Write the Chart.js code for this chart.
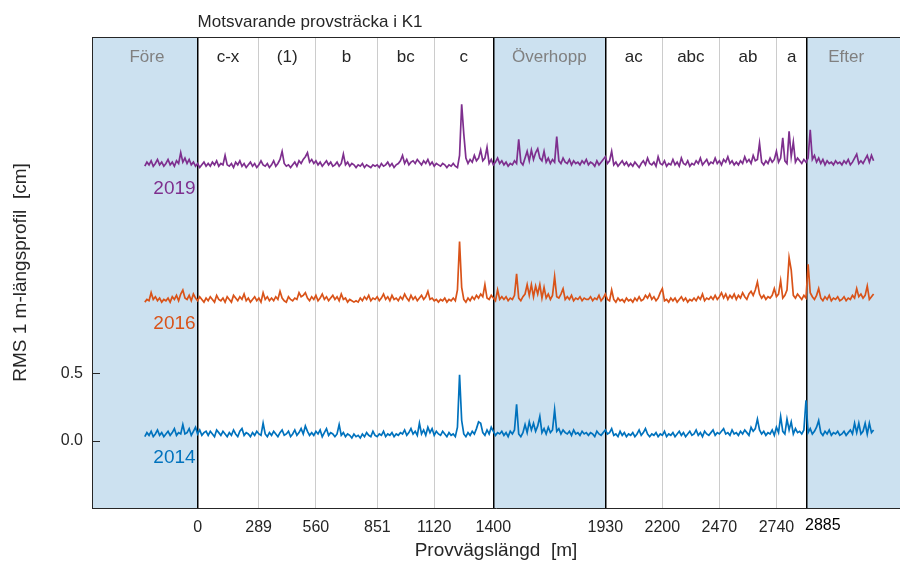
<!DOCTYPE html>
<html>
<head>
<meta charset="utf-8">
<script src="https://cdn.jsdelivr.net/npm/chart.js@4.4.0/dist/chart.umd.min.js"></script>
<style>
  body { margin: 0; background: #fff; }
  #wrap { width: 900px; height: 563px; }
</style>
</head>
<body>
<div id="wrap"><canvas id="rmsChart" width="900" height="563"></canvas></div>
<script>
// measurement grid along the road: one value every 10 m from -250 m
const startM = -250
const stepM = 10

// RMS values [cm], one row = 100 m
const rms2014 = [
  0.03, 0.06, 0.04, 0.07, 0.03, 0.05, 0.08, 0.04, 0.06, 0.03,
  0.05, 0.07, 0.04, 0.06, 0.09, 0.04, 0.06, 0.05, 0.12, 0.05,
  0.06, 0.09, 0.04, 0.07, 0.10, 0.05, 0.08, 0.04, 0.06, 0.07,
  0.04, 0.07, 0.05, 0.03, 0.08, 0.06, 0.04, 0.07, 0.05, 0.03,
  0.06, 0.04, 0.08, 0.05, 0.03, 0.07, 0.09, 0.04, 0.06, 0.05,
  0.03, 0.06, 0.04, 0.07, 0.05, 0.04, 0.13, 0.05, 0.03, 0.06,
  0.04, 0.07, 0.05, 0.03, 0.06, 0.08, 0.04, 0.05, 0.07, 0.03,
  0.05, 0.08, 0.04, 0.06, 0.09, 0.05, 0.11, 0.07, 0.04, 0.06,
  0.04, 0.07, 0.05, 0.08, 0.03, 0.06, 0.09, 0.04, 0.06, 0.05,
  0.03, 0.05, 0.12, 0.04, 0.06, 0.03, 0.05, 0.04, 0.02, 0.05,
  0.03, 0.04, 0.02, 0.05, 0.03, 0.06, 0.04, 0.03, 0.07, 0.04,
  0.03, 0.05, 0.04, 0.07, 0.03, 0.05, 0.04, 0.06, 0.03, 0.05,
  0.04, 0.06, 0.05, 0.08, 0.04, 0.06, 0.09, 0.05, 0.07, 0.04,
  0.13, 0.05, 0.08, 0.04, 0.10, 0.06, 0.09, 0.04, 0.07, 0.05,
  0.04, 0.07, 0.05, 0.03, 0.06, 0.04, 0.05, 0.03, 0.10, 0.49,
  0.15, 0.05, 0.03, 0.06, 0.04, 0.07, 0.05, 0.09, 0.14, 0.13,
  0.06, 0.04, 0.08, 0.05, 0.10, 0.07, 0.04, 0.06, 0.05, 0.07,
  0.04, 0.06, 0.03, 0.07, 0.05, 0.08, 0.27, 0.05, 0.03, 0.06,
  0.12, 0.06, 0.14, 0.08, 0.13, 0.07, 0.11, 0.18, 0.06, 0.09,
  0.05, 0.10, 0.06, 0.08, 0.23, 0.07, 0.09, 0.05, 0.08, 0.06,
  0.05, 0.07, 0.04, 0.08, 0.05, 0.06, 0.04, 0.07, 0.05, 0.06,
  0.04, 0.06, 0.05, 0.03, 0.07, 0.05, 0.04, 0.06, 0.08, 0.05,
  0.06, 0.09, 0.04, 0.05, 0.03, 0.07, 0.04, 0.06, 0.03, 0.05,
  0.04, 0.06, 0.03, 0.05, 0.08, 0.04, 0.06, 0.09, 0.05, 0.03,
  0.05, 0.04, 0.06, 0.03, 0.05, 0.04, 0.07, 0.03, 0.05, 0.04,
  0.06, 0.03, 0.05, 0.07, 0.04, 0.06, 0.03, 0.05, 0.07, 0.04,
  0.05, 0.08, 0.04, 0.06, 0.03, 0.07, 0.05, 0.04, 0.06, 0.08,
  0.04, 0.06, 0.05, 0.07, 0.09, 0.05, 0.06, 0.04, 0.08, 0.05,
  0.06, 0.04, 0.07, 0.05, 0.08, 0.06, 0.04, 0.10, 0.07, 0.09,
  0.16, 0.08, 0.05, 0.07, 0.04, 0.06, 0.05, 0.08, 0.04, 0.10,
  0.06, 0.18, 0.07, 0.05, 0.16, 0.08, 0.14, 0.05, 0.09, 0.06,
  0.07, 0.05, 0.08, 0.30, 0.06, 0.09, 0.05, 0.07, 0.10, 0.15,
  0.06, 0.04, 0.07, 0.05, 0.08, 0.04, 0.06, 0.05, 0.07, 0.04,
  0.05, 0.07, 0.04, 0.06, 0.08, 0.05, 0.13, 0.06, 0.13, 0.05,
  0.07, 0.13, 0.05, 0.13, 0.06, 0.08
]

const rms2016 = [
  0.03, 0.05, 0.04, 0.10, 0.05, 0.07, 0.04, 0.06, 0.03, 0.05,
  0.04, 0.06, 0.03, 0.07, 0.05, 0.08, 0.04, 0.09, 0.12, 0.06,
  0.05, 0.08, 0.04, 0.09, 0.06, 0.04, 0.07, 0.05, 0.03, 0.06,
  0.04, 0.07, 0.05, 0.03, 0.08, 0.05, 0.04, 0.06, 0.03, 0.07,
  0.05, 0.03, 0.08, 0.06, 0.04, 0.07, 0.05, 0.09, 0.04, 0.06,
  0.03, 0.05, 0.07, 0.04, 0.06, 0.03, 0.10, 0.05, 0.07, 0.04,
  0.06, 0.04, 0.07, 0.05, 0.11, 0.06, 0.04, 0.03, 0.07, 0.05,
  0.04, 0.06, 0.05, 0.10, 0.07, 0.08, 0.10, 0.06, 0.04, 0.07,
  0.05, 0.08, 0.04, 0.06, 0.09, 0.05, 0.07, 0.04, 0.06, 0.08,
  0.05, 0.07, 0.04, 0.09, 0.05, 0.06, 0.03, 0.05, 0.04, 0.03,
  0.04, 0.03, 0.06, 0.04, 0.07, 0.05, 0.08, 0.04, 0.06, 0.05,
  0.07, 0.04, 0.06, 0.09, 0.05, 0.07, 0.04, 0.08, 0.05, 0.06,
  0.04, 0.07, 0.05, 0.09, 0.06, 0.04, 0.08, 0.05, 0.07, 0.04,
  0.06, 0.08, 0.05, 0.07, 0.11, 0.05, 0.06, 0.04, 0.05, 0.03,
  0.05, 0.04, 0.06, 0.03, 0.05, 0.04, 0.06, 0.04, 0.12, 0.48,
  0.14, 0.05, 0.03, 0.06, 0.04, 0.07, 0.05, 0.08, 0.06, 0.09,
  0.07, 0.16, 0.06, 0.05, 0.08, 0.06, 0.04, 0.12, 0.05, 0.07,
  0.05, 0.07, 0.04, 0.06, 0.05, 0.08, 0.24, 0.06, 0.04, 0.07,
  0.09, 0.16, 0.08, 0.16, 0.07, 0.15, 0.09, 0.16, 0.06, 0.14,
  0.06, 0.09, 0.05, 0.08, 0.22, 0.07, 0.06, 0.09, 0.13, 0.05,
  0.07, 0.05, 0.08, 0.04, 0.06, 0.05, 0.07, 0.04, 0.06, 0.05,
  0.05, 0.07, 0.04, 0.06, 0.05, 0.08, 0.04, 0.06, 0.09, 0.05,
  0.04, 0.12, 0.05, 0.03, 0.06, 0.04, 0.05, 0.03, 0.06, 0.04,
  0.05, 0.03, 0.06, 0.04, 0.07, 0.04, 0.05, 0.08, 0.06, 0.09,
  0.05, 0.07, 0.04, 0.06, 0.10, 0.13, 0.04, 0.05, 0.03, 0.06,
  0.04, 0.06, 0.03, 0.05, 0.07, 0.04, 0.06, 0.03, 0.05, 0.04,
  0.06, 0.04, 0.07, 0.05, 0.09, 0.04, 0.06, 0.05, 0.07, 0.05,
  0.08, 0.05, 0.07, 0.10, 0.06, 0.09, 0.05, 0.08, 0.06, 0.09,
  0.05, 0.08, 0.06, 0.10, 0.07, 0.05, 0.09, 0.11, 0.08, 0.12,
  0.18, 0.09, 0.06, 0.08, 0.05, 0.07, 0.06, 0.08, 0.13, 0.07,
  0.09, 0.19, 0.06, 0.08, 0.12, 0.36, 0.27, 0.08, 0.06, 0.09,
  0.07, 0.05, 0.08, 0.06, 0.31, 0.10, 0.07, 0.05, 0.08, 0.13,
  0.06, 0.04, 0.07, 0.05, 0.08, 0.04, 0.06, 0.05, 0.07, 0.04,
  0.05, 0.07, 0.04, 0.06, 0.05, 0.08, 0.06, 0.13, 0.07, 0.09,
  0.06, 0.08, 0.15, 0.05, 0.07, 0.09
]

const rms2019 = [
  0.04, 0.07, 0.05, 0.08, 0.04, 0.06, 0.09, 0.05, 0.07, 0.04,
  0.06, 0.09, 0.05, 0.07, 0.04, 0.08, 0.06, 0.14, 0.07, 0.10,
  0.06, 0.09, 0.05, 0.07, 0.04, 0.06, 0.03, 0.05, 0.07, 0.04,
  0.06, 0.04, 0.07, 0.05, 0.08, 0.04, 0.06, 0.05, 0.12, 0.05,
  0.04, 0.06, 0.03, 0.07, 0.05, 0.08, 0.04, 0.06, 0.03, 0.05,
  0.07, 0.04, 0.06, 0.03, 0.05, 0.08, 0.05, 0.04, 0.06, 0.03,
  0.05, 0.08, 0.04, 0.06, 0.09, 0.15, 0.06, 0.04, 0.05, 0.03,
  0.05, 0.07, 0.04, 0.08, 0.06, 0.09, 0.11, 0.14, 0.07, 0.09,
  0.06, 0.08, 0.05, 0.07, 0.04, 0.06, 0.08, 0.05, 0.07, 0.04,
  0.05, 0.07, 0.04, 0.06, 0.13, 0.05, 0.07, 0.04, 0.06, 0.05,
  0.03, 0.05, 0.04, 0.06, 0.03, 0.05, 0.04, 0.03, 0.05, 0.04,
  0.05, 0.03, 0.06, 0.04, 0.05, 0.07, 0.04, 0.06, 0.03, 0.05,
  0.06, 0.08, 0.12, 0.06, 0.09, 0.05, 0.07, 0.08, 0.06, 0.09,
  0.07, 0.05, 0.08, 0.06, 0.09, 0.05, 0.07, 0.04, 0.06, 0.05,
  0.04, 0.06, 0.05, 0.03, 0.05, 0.04, 0.06, 0.04, 0.03, 0.12,
  0.50, 0.28, 0.10, 0.06, 0.09, 0.07, 0.12, 0.08, 0.10, 0.16,
  0.08, 0.10, 0.18, 0.06, 0.09, 0.05, 0.07, 0.10, 0.06, 0.08,
  0.05, 0.07, 0.04, 0.06, 0.05, 0.08, 0.06, 0.24, 0.07, 0.05,
  0.10, 0.15, 0.08, 0.16, 0.09, 0.14, 0.17, 0.10, 0.08, 0.15,
  0.07, 0.10, 0.06, 0.09, 0.07, 0.26, 0.08, 0.06, 0.10, 0.07,
  0.06, 0.09, 0.05, 0.08, 0.06, 0.07, 0.05, 0.08, 0.06, 0.09,
  0.05, 0.07, 0.06, 0.04, 0.08, 0.05, 0.07, 0.09, 0.11, 0.06,
  0.08, 0.15, 0.05, 0.07, 0.04, 0.06, 0.08, 0.05, 0.07, 0.04,
  0.06, 0.04, 0.07, 0.05, 0.03, 0.06, 0.08, 0.05, 0.10, 0.06,
  0.05, 0.07, 0.04, 0.11, 0.06, 0.05, 0.08, 0.04, 0.06, 0.05,
  0.09, 0.05, 0.07, 0.04, 0.10, 0.06, 0.05, 0.08, 0.04, 0.06,
  0.05, 0.08, 0.06, 0.10, 0.05, 0.07, 0.09, 0.05, 0.07, 0.06,
  0.10, 0.06, 0.08, 0.05, 0.09, 0.07, 0.11, 0.06, 0.08, 0.05,
  0.07, 0.05, 0.08, 0.06, 0.11, 0.07, 0.09, 0.06, 0.12, 0.08,
  0.09, 0.21, 0.07, 0.05, 0.08, 0.06, 0.10, 0.07, 0.09, 0.15,
  0.07, 0.10, 0.25, 0.08, 0.06, 0.30, 0.11, 0.22, 0.07, 0.10,
  0.08, 0.06, 0.09, 0.07, 0.10, 0.31, 0.09, 0.12, 0.07, 0.10,
  0.06, 0.09, 0.05, 0.08, 0.06, 0.07, 0.05, 0.08, 0.06, 0.07,
  0.05, 0.08, 0.06, 0.09, 0.05, 0.07, 0.10, 0.13, 0.06, 0.08,
  0.06, 0.09, 0.12, 0.07, 0.12, 0.08
]

const years = ['2014', '2016', '2019']
const yearSeries = [rms2014, rms2016, rms2019]
const yearColors = ['#0072BD', '#D95319', '#7E2F8E']
const yearOffsets = [0, 1, 2]

const xTicks = [0, 289, 560, 851, 1120, 1400, 1930, 2200, 2470, 2740, 2885]
const yTicks = [0, 0.5]
const sectionBounds = [0, 1400, 1930, 2885]
const shadedSpans = [[-500, 0], [1400, 1930], [2885, 3325]]
const sectionNames = ['Före', 'c-x', '(1)', 'b', 'bc', 'c', 'Överhopp', 'ac', 'abc', 'ab', 'a', 'Efter']
const sectionCenters = [-240, 144, 424, 705, 985, 1260, 1665, 2065, 2335, 2605, 2812, 3070]
const greyedSections = ['Före', 'Överhopp', 'Efter']

const font = "'Liberation Sans', Arial, sans-serif"
const textColor = '#262626'

Chart.defaults.font.family = font
Chart.defaults.font.size = 16
Chart.defaults.color = textColor

function toPoints(values, offset) {
  return values.map((v, i) => ({ x: startM + i * stepM, y: v + offset }))
}

const decorations = {
  id: 'decorations',
  beforeDraw(chart) {
    const { ctx, chartArea: a, scales: { x } } = chart
    ctx.save()
    ctx.fillStyle = 'rgb(204, 225, 240)'
    shadedSpans.forEach(([from, to]) => {
      const x0 = Math.max(x.getPixelForValue(from), a.left)
      const x1 = Math.min(x.getPixelForValue(to), a.right)
      ctx.fillRect(x0, a.top, x1 - x0, a.bottom - a.top)
    })
    ctx.restore()
  },
  afterDraw(chart) {
    const { ctx, chartArea: a, scales: { x, y } } = chart
    ctx.save()

    // top box line and inward y ticks
    ctx.strokeStyle = textColor
    ctx.lineWidth = 1
    ctx.beginPath()
    ctx.moveTo(a.left, a.top + 0.5)
    ctx.lineTo(a.right, a.top + 0.5)
    yTicks.forEach(v => {
      const py = Math.round(y.getPixelForValue(v)) + 0.5
      ctx.moveTo(a.left, py)
      ctx.lineTo(a.left + 8, py)
    })
    ctx.stroke()

    // title above the section names
    ctx.fillStyle = textColor
    ctx.font = '17px ' + font
    ctx.textAlign = 'left'
    ctx.textBaseline = 'middle'
    ctx.fillText('Motsvarande provsträcka i K1', x.getPixelForValue(0), 22)

    // section names
    ctx.textAlign = 'center'
    sectionNames.forEach((name, i) => {
      ctx.fillStyle = greyedSections.includes(name) ? '#808080' : textColor
      ctx.fillText(name, x.getPixelForValue(sectionCenters[i]), a.top + 20)
    })

    // last tick label, shifted right of its line
    ctx.fillStyle = '#000'
    ctx.font = '16px ' + font
    ctx.textAlign = 'left'
    ctx.textBaseline = 'top'
    ctx.fillText('2885', x.getPixelForValue(2885) - 2, a.bottom + 10)

    // year labels
    ctx.font = '19px ' + font
    ctx.textAlign = 'right'
    ctx.textBaseline = 'middle'
    years.forEach((yr, i) => {
      ctx.fillStyle = yearColors[i]
      ctx.fillText(yr, x.getPixelForValue(0) - 2, y.getPixelForValue(yearOffsets[i] - 0.13))
    })
    ctx.restore()
  }
}

new Chart(document.getElementById('rmsChart'), {
  type: 'line',
  data: {
    datasets: years.map((yr, i) => ({
      label: yr,
      data: toPoints(yearSeries[i], yearOffsets[i]),
      borderColor: yearColors[i],
      borderWidth: 1.7,
      pointRadius: 0,
      tension: 0
    }))
  },
  options: {
    responsive: false,
    animation: false,
    devicePixelRatio: 1,
    events: [],
    layout: { padding: { top: 37, left: 0, right: 0, bottom: 0 } },
    plugins: {
      legend: { display: false },
      tooltip: { enabled: false }
    },
    scales: {
      x: {
        type: 'linear',
        min: -500,
        max: 3325,
        afterBuildTicks: s => { s.ticks = xTicks.map(v => ({ value: v })) },
        afterFit: s => { s.height = 55 },
        ticks: {
          autoSkip: false,
          maxRotation: 0,
          padding: 10,
          color: textColor,
          callback: v => v === 2885 ? '' : String(v)
        },
        grid: {
          drawTicks: false,
          color: c => sectionBounds.includes(c.tick && c.tick.value) ? '#000' : '#cccccc',
          lineWidth: c => sectionBounds.includes(c.tick && c.tick.value) ? 1.5 : 1
        },
        border: { display: true, color: textColor, width: 1 },
        title: {
          display: true,
          text: 'Provvägslängd  [m]',
          font: { size: 19 },
          color: textColor,
          padding: { top: 0, bottom: 1 }
        }
      },
      y: {
        min: -0.5,
        max: 3,
        afterBuildTicks: s => { s.ticks = yTicks.map(v => ({ value: v })) },
        afterFit: s => { s.width = 92 },
        ticks: {
          padding: 9,
          color: textColor,
          callback: v => v.toFixed(1)
        },
        grid: { display: false, drawTicks: false },
        border: { display: true, color: textColor, width: 1 },
        title: {
          display: true,
          text: 'RMS 1 m-längsprofil  [cm]',
          font: { size: 19 },
          color: textColor,
          padding: { top: 9, bottom: 0 }
        }
      }
    }
  },
  plugins: [decorations]
})
</script>
</body>
</html>
